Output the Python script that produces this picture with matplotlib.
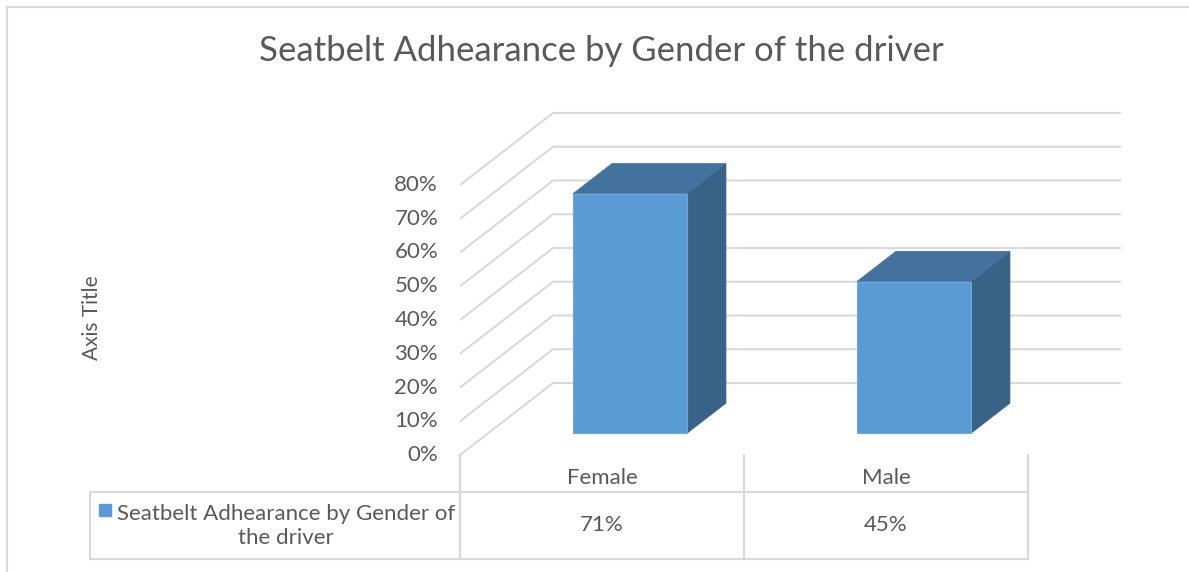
import matplotlib
matplotlib.use("Agg")
import matplotlib.pyplot as plt
from matplotlib.patches import Polygon, Rectangle
from matplotlib.lines import Line2D
import matplotlib.transforms as mtransforms

# data
categories = ["Female", "Male"]
values = [0.71, 0.45]
value_labels = ["71%", "45%"]
series_name = "Seatbelt Adhearance by Gender of\nthe driver"
ticks = [0.0, 0.1, 0.2, 0.3, 0.4, 0.5, 0.6, 0.7, 0.8]
title = "Seatbelt Adhearance by Gender of the driver"

W, H = 1189, 572
plt.rcParams['font.family'] = ['Lato', 'DejaVu Sans']
txt = '#595959'
grid = '#D9D9D9'

fig = plt.figure(figsize=(W / 100, H / 100), dpi=100)
ax = fig.add_axes([0, 0, 1, 1])
ax.axis('off')

# layout of the 3d box in pixels
x0, y0 = 460, 455       # front-left corner of floor
cat_px, val_px = 284, 337.5
ddx, ddy = 93 / cat_px, 72 / val_px   # full depth vector in data units
ax.set_xlim(-x0 / cat_px, (W - x0) / cat_px)
ax.set_ylim(-(H - y0) / val_px, y0 / val_px)

def P(c, v, d):
    return (c + d * ddx, v + d * ddy)

ncat = len(categories)
# gridlines: left wall diagonals + back wall
for t in ticks:
    xs, ys = zip(P(0, t, 0), P(0, t, 1), P(ncat, t, 1))
    ax.plot(xs, ys, color=grid, lw=1.5, solid_capstyle='butt', zorder=1)

# tick labels
off = mtransforms.offset_copy(ax.transData, fig=fig, x=-22, y=0, units='dots')
for t in ticks:
    ax.text(*P(0, t, 0), f"{t:.0%}", transform=off, ha='right', va='center',
            fontsize=16, color=txt)

# 3d columns
bw = 114 / cat_px
d1, d2 = 0.3, 0.72
front, top, side = '#5B9BD5', '#44729F', '#396287'
for i, v in enumerate(values):
    c0 = i + 0.5 - bw / 2
    c1 = i + 0.5 + bw / 2
    ax.add_patch(Polygon([P(c1, 0, d1), P(c1, 0, d2), P(c1, v, d2), P(c1, v, d1)],
                         closed=True, fc=side, ec=side, lw=0.5, zorder=3))
    ax.add_patch(Polygon([P(c0, v, d1), P(c1, v, d1), P(c1, v, d2), P(c0, v, d2)],
                         closed=True, fc=top, ec=top, lw=0.5, zorder=3))
    ax.add_patch(Polygon([P(c0, 0, d1), P(c1, 0, d1), P(c1, v, d1), P(c0, v, d1)],
                         closed=True, fc=front, ec='#6FA8DC', lw=0.8, zorder=4))

# data table below
def fx(px):
    return px / W

def fy(py):
    return 1 - py / H

tab_left, row_top, row_bot = 90, 492, 559
col_x = [x0 + i * cat_px for i in range(ncat + 1)]
lkw = dict(color=grid, lw=1.5, transform=fig.transFigure)
fig.add_artist(Line2D([fx(tab_left), fx(col_x[-1])], [fy(row_top)] * 2, **lkw))
fig.add_artist(Line2D([fx(tab_left), fx(col_x[-1])], [fy(row_bot)] * 2, **lkw))
fig.add_artist(Line2D([fx(tab_left)] * 2, [fy(row_top), fy(row_bot)], **lkw))
for cx in col_x:
    fig.add_artist(Line2D([fx(cx)] * 2, [fy(y0), fy(row_bot)], **lkw))
for i, (cat, lab) in enumerate(zip(categories, value_labels)):
    xc = fx(x0 + (i + 0.5) * cat_px)
    fig.text(xc, fy(478), cat, ha='center', va='center', fontsize=16, color=txt)
    fig.text(xc, fy(525), lab, ha='center', va='center', fontsize=16, color=txt)
fig.add_artist(Rectangle((fx(99), fy(516)), fx(12), 12 / H, color=front,
                         transform=fig.transFigure))
fig.text(fx(286), fy(526), series_name, ha='center', va='center', fontsize=16,
         color=txt, linespacing=1.3)

# outer frame
fig.add_artist(Line2D([fx(7), 1], [fy(7)] * 2, **lkw))
fig.add_artist(Line2D([fx(7)] * 2, [fy(7), 0], **lkw))

fig.text(fx(601), fy(51), title, ha='center', va='center', fontsize=25, color=txt)
fig.text(fx(92), fy(318), "Axis Title", ha='center', va='center', rotation=90,
         fontsize=15, color=txt)

fig.savefig("out.png", dpi=100)
